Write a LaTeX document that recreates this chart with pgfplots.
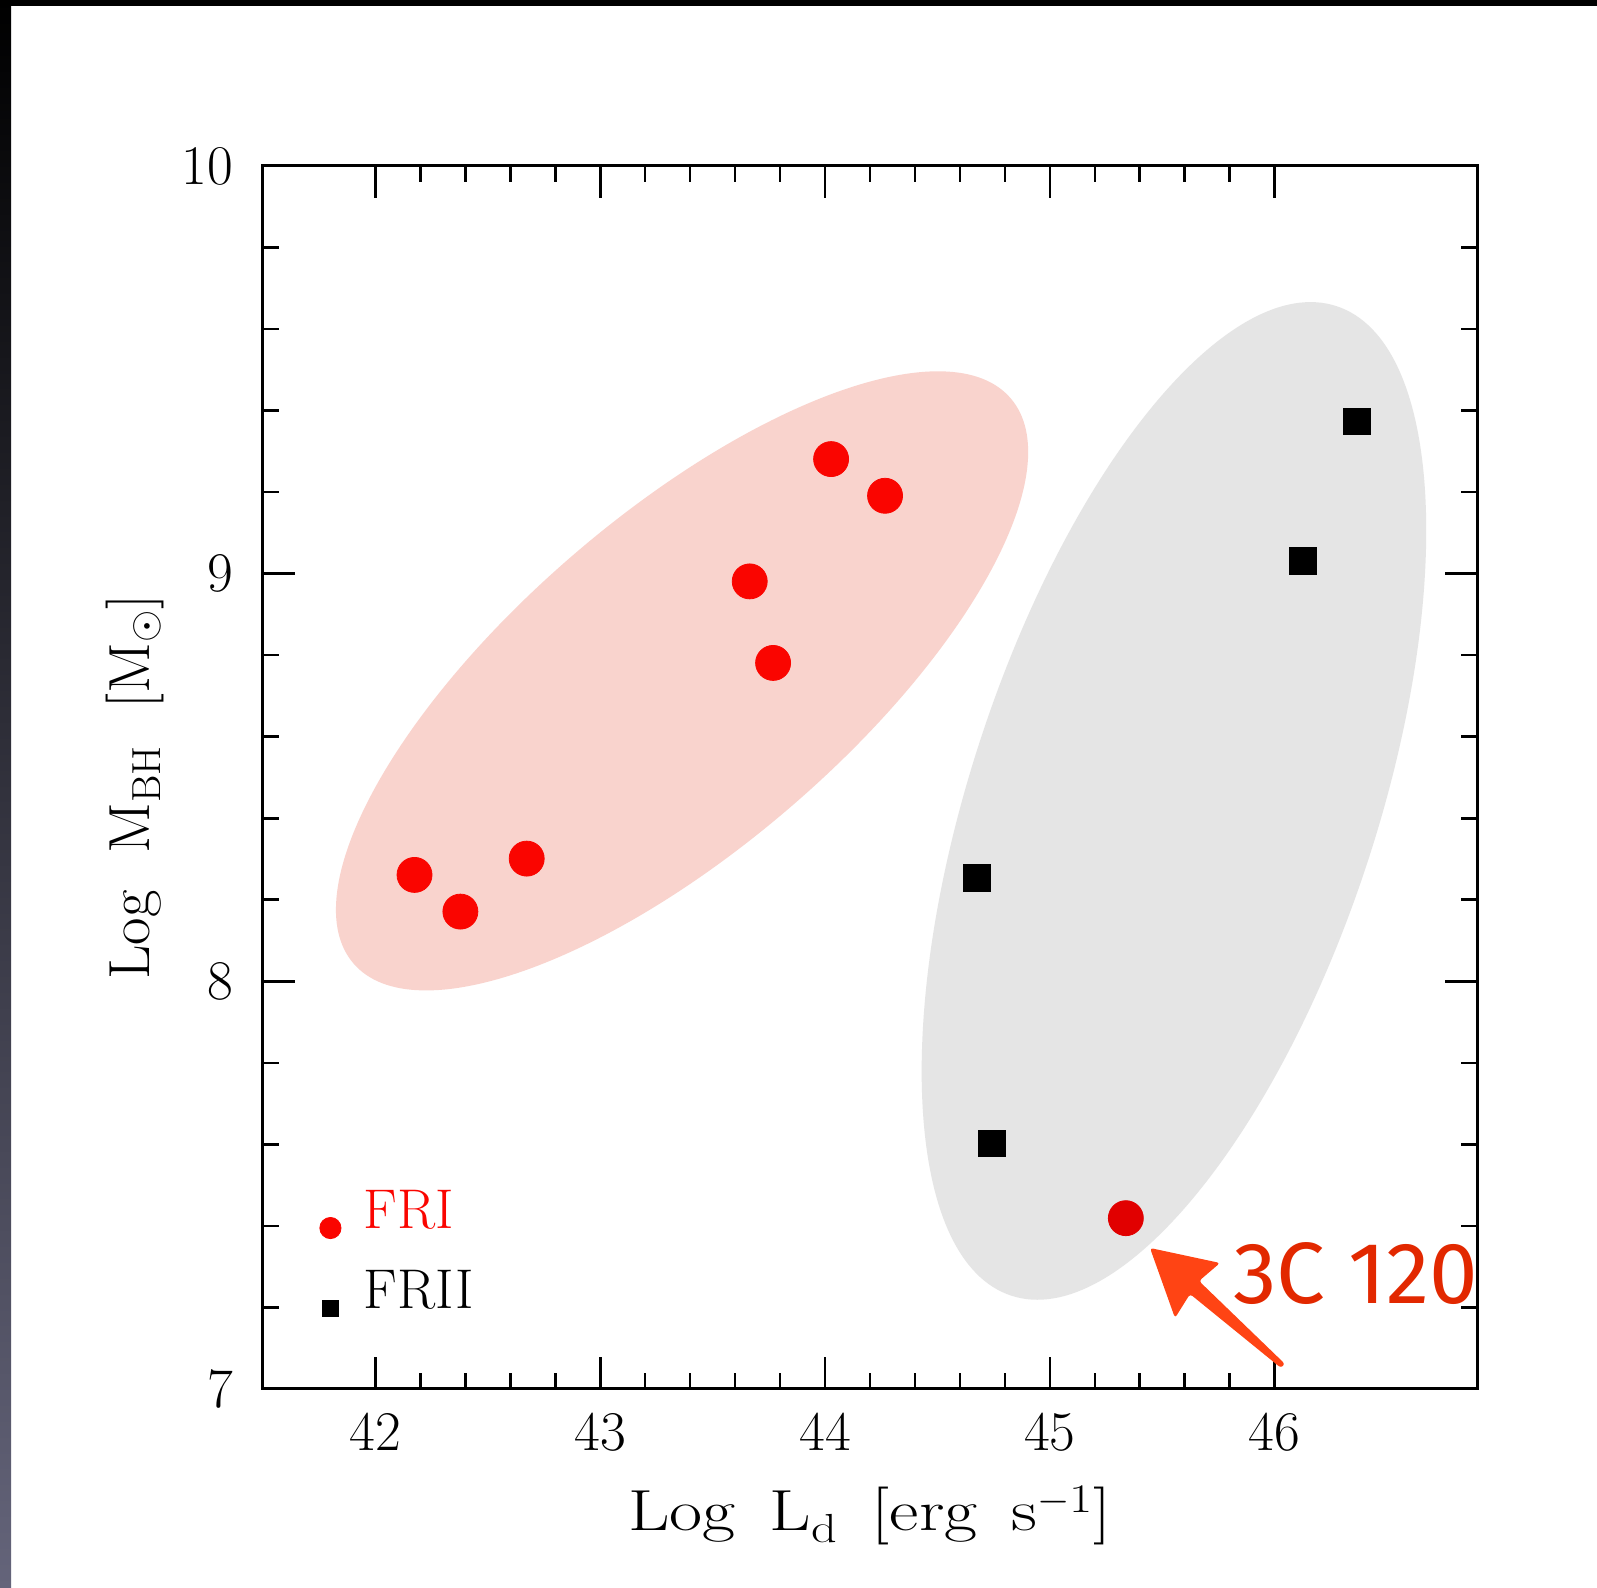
\documentclass[border=0pt]{standalone}
\usepackage{fontspec}
\usepackage{pgfplots}
\pgfplotsset{compat=1.18}
\newfontfamily\comicfont{Fira Sans}
\newfontfamily\xlblfont{lmroman17-regular.otf}[FakeStretch=1.24]
\newfontfamily\ylblfont{lmroman17-regular.otf}[FakeStretch=1.03]
\definecolor{frired}{RGB}{250,5,0}
\definecolor{darkfri}{RGB}{225,0,0}
\definecolor{ellred}{RGB}{249,211,205}
\definecolor{ellgray}{RGB}{229,229,229}
\definecolor{arrowc}{RGB}{255,68,20}
\definecolor{textc}{RGB}{226,40,0}
\definecolor{stripbot}{RGB}{100,100,122}
\definecolor{stripmid}{RGB}{22,22,36}
\begin{document}
\begin{tikzpicture}
\useasboundingbox (0,0) rectangle (798.5pt,794pt);
\fill[white] (0,0) rectangle (798.5pt,794pt);
\shade[top color=black, middle color=stripmid, bottom color=stripbot] (0,0) rectangle (5.5pt,794pt);
\fill[black] (0,791pt) rectangle (798.5pt,794pt);
\begin{axis}[
  at={(131.5pt,99.5pt)}, anchor=south west,
  width=607pt, height=611.5pt, scale only axis,
  xmin=41.5, xmax=46.9, ymin=7, ymax=10,
  xtick={42,43,44,45,46}, ytick={7,8,9,10},
  minor x tick num=4, minor y tick num=4,
  tick align=inside,
  major tick length=16pt, minor tick length=8pt,
  every tick/.style={black, line width=1.3pt},
  axis line style={line width=1.5pt},
  /pgf/number format/assume math mode=true,
  tick label style={font=\fontsize{28}{33}\selectfont},
  xticklabel style={yshift=-8.5pt},
  yticklabel style={xshift=-11.5pt},
  every axis x label/.style={at={(axis description cs:0.5,-0.1161)}, anchor=base, font=\xlblfont\fontsize{29}{35}\selectfont},
  every axis y label/.style={at={(axis description cs:-0.0931,0.4924)}, rotate=90, anchor=base, font=\ylblfont\fontsize{29}{35}\selectfont},
  xlabel={Log\hspace{17pt}L\textsubscript{d}\hspace{17pt}[erg\hspace{17pt}s\textsuperscript{\(-\)1}]},
  ylabel={Log\hspace{18.5pt}M\textsubscript{BH}\hspace{18.5pt}[M\textsubscript{\(\odot\)}]},
  legend style={draw=none, fill=none, inner sep=0pt, outer sep=0pt,
    at={(axis description cs:0.0465,0.1643)}, anchor=north west,
    font=\fontsize{28}{34}\selectfont, row sep=14.7pt,
    cells={anchor=base west},
    nodes={inner sep=0pt, text height=20pt, text depth=0pt},
    /tikz/every odd column/.append style={column sep=11.2pt}},
]
\fill[ellred] (axis cs:43.364,8.737) circle [x radius=216.7pt, y radius=83.2pt, rotate=40.7];
\fill[ellgray] (axis cs:45.552,8.4425) circle [x radius=260.4pt, y radius=101.5pt, rotate=71.8];
\addplot[only marks, mark=*, mark size=8.75pt, color=frired, mark options={draw=none},
  legend image code/.code={\fill[frired] (0pt,0pt) circle (5.3pt);}]
  coordinates {(42.174,8.261) (42.378,8.171) (42.673,8.301) (43.665,8.981) (43.769,8.781) (44.027,9.281) (44.267,9.191)};
\addlegendentry{\textcolor{frired}{FRI}}
\addplot[only marks, mark=square*, mark size=6.6pt, color=black, mark options={draw=none},
  legend image code/.code={\fill[black] (-4pt,-4pt) rectangle (4pt,4pt);}]
  coordinates {(46.365,9.373) (46.125,9.031) (44.675,8.254) (44.743,7.602)};
\addlegendentry{FRII}
\addplot[only marks, mark=*, mark size=8.75pt, color=darkfri, mark options={draw=none}, forget plot]
  coordinates {(45.338,7.419)};
\end{axis}
\begin{scope}[shift={(0pt,794pt)}, x=0.5pt, y=-0.5pt]
\fill[arrowc, rounded corners=1.5pt] (1150,1248) -- (1220,1263) -- (1199,1281) -- (1285,1364) -- (1281,1368) -- (1190,1294) -- (1175,1318) -- cycle;
\node[anchor=base west, inner sep=0pt, text=textc, font=\comicfont\fontsize{43.5}{50}\selectfont] at (1233,1304) {3C 120};
\end{scope}
\end{tikzpicture}
\end{document}
